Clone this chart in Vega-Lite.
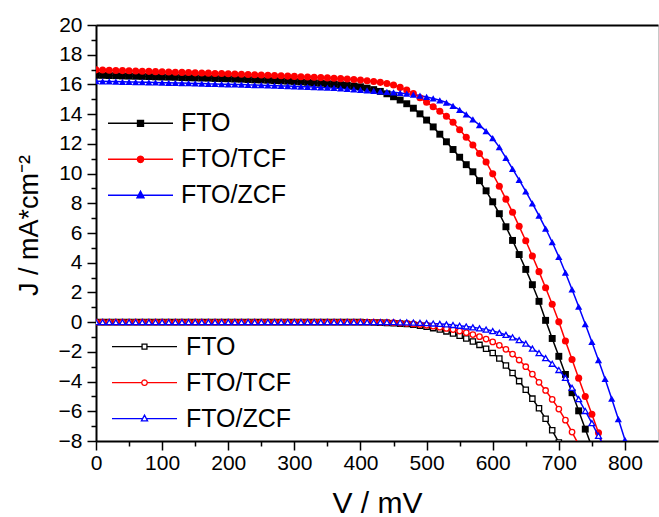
{
"$schema": "https://vega.github.io/schema/vega-lite/v6.json",
"width": 562, "height": 416,
"autosize": {"type": "none"},
"padding": {"left": 96, "top": 25, "right": 1, "bottom": 76},
"config": {
  "font": "Liberation Sans",
  "view": {"stroke": "#c8c8c8", "strokeWidth": 1},
  "axis": {"labelColor": "black", "titleColor": "black", "tickColor": "black", "domainColor": "black", "grid": false, "labelFont": "Liberation Sans", "titleFont": "Liberation Sans", "titleFontWeight": "normal", "labelFlush": false, "labelOverlap": false}
},
"datasets": {
"light": [
{"s":"FTO","v":0,"j":16.62},{"s":"FTO","v":10,"j":16.61},{"s":"FTO","v":20,"j":16.60},{"s":"FTO","v":30,"j":16.59},{"s":"FTO","v":40,"j":16.57},{"s":"FTO","v":50,"j":16.56},{"s":"FTO","v":60,"j":16.55},{"s":"FTO","v":70,"j":16.54},{"s":"FTO","v":80,"j":16.53},{"s":"FTO","v":90,"j":16.51},{"s":"FTO","v":100,"j":16.50},{"s":"FTO","v":110,"j":16.49},{"s":"FTO","v":120,"j":16.48},{"s":"FTO","v":130,"j":16.46},{"s":"FTO","v":140,"j":16.45},{"s":"FTO","v":150,"j":16.44},{"s":"FTO","v":160,"j":16.43},{"s":"FTO","v":170,"j":16.42},{"s":"FTO","v":180,"j":16.40},{"s":"FTO","v":190,"j":16.39},{"s":"FTO","v":200,"j":16.38},{"s":"FTO","v":210,"j":16.36},{"s":"FTO","v":220,"j":16.35},{"s":"FTO","v":230,"j":16.33},{"s":"FTO","v":240,"j":16.31},{"s":"FTO","v":250,"j":16.30},{"s":"FTO","v":260,"j":16.28},{"s":"FTO","v":270,"j":16.26},{"s":"FTO","v":280,"j":16.24},{"s":"FTO","v":290,"j":16.22},{"s":"FTO","v":300,"j":16.20},{"s":"FTO","v":310,"j":16.17},{"s":"FTO","v":320,"j":16.14},{"s":"FTO","v":330,"j":16.11},{"s":"FTO","v":340,"j":16.08},{"s":"FTO","v":350,"j":16.05},{"s":"FTO","v":360,"j":16.02},{"s":"FTO","v":370,"j":15.98},{"s":"FTO","v":380,"j":15.94},{"s":"FTO","v":390,"j":15.89},{"s":"FTO","v":400,"j":15.84},{"s":"FTO","v":410,"j":15.75},{"s":"FTO","v":420,"j":15.65},{"s":"FTO","v":430,"j":15.53},{"s":"FTO","v":440,"j":15.37},{"s":"FTO","v":450,"j":15.17},{"s":"FTO","v":460,"j":14.95},{"s":"FTO","v":470,"j":14.70},{"s":"FTO","v":480,"j":14.40},{"s":"FTO","v":490,"j":14.02},{"s":"FTO","v":500,"j":13.60},{"s":"FTO","v":510,"j":13.14},{"s":"FTO","v":520,"j":12.65},{"s":"FTO","v":530,"j":12.14},{"s":"FTO","v":540,"j":11.62},{"s":"FTO","v":550,"j":11.10},{"s":"FTO","v":560,"j":10.60},{"s":"FTO","v":570,"j":10.12},{"s":"FTO","v":580,"j":9.52},{"s":"FTO","v":590,"j":8.84},{"s":"FTO","v":600,"j":8.10},{"s":"FTO","v":610,"j":7.30},{"s":"FTO","v":620,"j":6.42},{"s":"FTO","v":630,"j":5.50},{"s":"FTO","v":640,"j":4.55},{"s":"FTO","v":650,"j":3.55},{"s":"FTO","v":660,"j":2.52},{"s":"FTO","v":670,"j":1.40},{"s":"FTO","v":680,"j":0.12},{"s":"FTO","v":690,"j":-1.10},{"s":"FTO","v":700,"j":-2.30},{"s":"FTO","v":710,"j":-3.52},{"s":"FTO","v":720,"j":-4.75},{"s":"FTO","v":730,"j":-5.97},{"s":"FTO","v":740,"j":-7.20},{"s":"FTO","v":750,"j":-8.40},
{"s":"FTO/TCF","v":0,"j":16.98},{"s":"FTO/TCF","v":10,"j":16.97},{"s":"FTO/TCF","v":20,"j":16.96},{"s":"FTO/TCF","v":30,"j":16.94},{"s":"FTO/TCF","v":40,"j":16.93},{"s":"FTO/TCF","v":50,"j":16.92},{"s":"FTO/TCF","v":60,"j":16.90},{"s":"FTO/TCF","v":70,"j":16.89},{"s":"FTO/TCF","v":80,"j":16.88},{"s":"FTO/TCF","v":90,"j":16.86},{"s":"FTO/TCF","v":100,"j":16.85},{"s":"FTO/TCF","v":110,"j":16.84},{"s":"FTO/TCF","v":120,"j":16.82},{"s":"FTO/TCF","v":130,"j":16.81},{"s":"FTO/TCF","v":140,"j":16.80},{"s":"FTO/TCF","v":150,"j":16.78},{"s":"FTO/TCF","v":160,"j":16.77},{"s":"FTO/TCF","v":170,"j":16.76},{"s":"FTO/TCF","v":180,"j":16.74},{"s":"FTO/TCF","v":190,"j":16.73},{"s":"FTO/TCF","v":200,"j":16.72},{"s":"FTO/TCF","v":210,"j":16.70},{"s":"FTO/TCF","v":220,"j":16.69},{"s":"FTO/TCF","v":230,"j":16.67},{"s":"FTO/TCF","v":240,"j":16.65},{"s":"FTO/TCF","v":250,"j":16.64},{"s":"FTO/TCF","v":260,"j":16.62},{"s":"FTO/TCF","v":270,"j":16.60},{"s":"FTO/TCF","v":280,"j":16.58},{"s":"FTO/TCF","v":290,"j":16.56},{"s":"FTO/TCF","v":300,"j":16.54},{"s":"FTO/TCF","v":310,"j":16.52},{"s":"FTO/TCF","v":320,"j":16.50},{"s":"FTO/TCF","v":330,"j":16.48},{"s":"FTO/TCF","v":340,"j":16.46},{"s":"FTO/TCF","v":350,"j":16.44},{"s":"FTO/TCF","v":360,"j":16.41},{"s":"FTO/TCF","v":370,"j":16.39},{"s":"FTO/TCF","v":380,"j":16.36},{"s":"FTO/TCF","v":390,"j":16.33},{"s":"FTO/TCF","v":400,"j":16.29},{"s":"FTO/TCF","v":410,"j":16.25},{"s":"FTO/TCF","v":420,"j":16.20},{"s":"FTO/TCF","v":430,"j":16.14},{"s":"FTO/TCF","v":440,"j":16.06},{"s":"FTO/TCF","v":450,"j":15.96},{"s":"FTO/TCF","v":460,"j":15.80},{"s":"FTO/TCF","v":470,"j":15.62},{"s":"FTO/TCF","v":480,"j":15.38},{"s":"FTO/TCF","v":490,"j":15.10},{"s":"FTO/TCF","v":500,"j":14.80},{"s":"FTO/TCF","v":510,"j":14.50},{"s":"FTO/TCF","v":520,"j":14.20},{"s":"FTO/TCF","v":530,"j":13.86},{"s":"FTO/TCF","v":540,"j":13.45},{"s":"FTO/TCF","v":550,"j":12.95},{"s":"FTO/TCF","v":560,"j":12.45},{"s":"FTO/TCF","v":570,"j":11.92},{"s":"FTO/TCF","v":580,"j":11.35},{"s":"FTO/TCF","v":590,"j":10.78},{"s":"FTO/TCF","v":600,"j":9.98},{"s":"FTO/TCF","v":610,"j":9.15},{"s":"FTO/TCF","v":620,"j":8.28},{"s":"FTO/TCF","v":630,"j":7.40},{"s":"FTO/TCF","v":640,"j":6.45},{"s":"FTO/TCF","v":650,"j":5.48},{"s":"FTO/TCF","v":660,"j":4.45},{"s":"FTO/TCF","v":670,"j":3.40},{"s":"FTO/TCF","v":680,"j":2.32},{"s":"FTO/TCF","v":690,"j":1.20},{"s":"FTO/TCF","v":700,"j":0.02},{"s":"FTO/TCF","v":710,"j":-1.27},{"s":"FTO/TCF","v":720,"j":-2.52},{"s":"FTO/TCF","v":730,"j":-3.77},{"s":"FTO/TCF","v":740,"j":-5.00},{"s":"FTO/TCF","v":750,"j":-6.20},{"s":"FTO/TCF","v":760,"j":-7.45},{"s":"FTO/TCF","v":770,"j":-8.70},
{"s":"FTO/ZCF","v":0,"j":16.22},{"s":"FTO/ZCF","v":10,"j":16.21},{"s":"FTO/ZCF","v":20,"j":16.20},{"s":"FTO/ZCF","v":30,"j":16.19},{"s":"FTO/ZCF","v":40,"j":16.18},{"s":"FTO/ZCF","v":50,"j":16.17},{"s":"FTO/ZCF","v":60,"j":16.16},{"s":"FTO/ZCF","v":70,"j":16.15},{"s":"FTO/ZCF","v":80,"j":16.14},{"s":"FTO/ZCF","v":90,"j":16.13},{"s":"FTO/ZCF","v":100,"j":16.12},{"s":"FTO/ZCF","v":110,"j":16.11},{"s":"FTO/ZCF","v":120,"j":16.10},{"s":"FTO/ZCF","v":130,"j":16.09},{"s":"FTO/ZCF","v":140,"j":16.08},{"s":"FTO/ZCF","v":150,"j":16.07},{"s":"FTO/ZCF","v":160,"j":16.06},{"s":"FTO/ZCF","v":170,"j":16.04},{"s":"FTO/ZCF","v":180,"j":16.03},{"s":"FTO/ZCF","v":190,"j":16.02},{"s":"FTO/ZCF","v":200,"j":16.01},{"s":"FTO/ZCF","v":210,"j":16.00},{"s":"FTO/ZCF","v":220,"j":15.99},{"s":"FTO/ZCF","v":230,"j":15.97},{"s":"FTO/ZCF","v":240,"j":15.96},{"s":"FTO/ZCF","v":250,"j":15.95},{"s":"FTO/ZCF","v":260,"j":15.93},{"s":"FTO/ZCF","v":270,"j":15.92},{"s":"FTO/ZCF","v":280,"j":15.90},{"s":"FTO/ZCF","v":290,"j":15.89},{"s":"FTO/ZCF","v":300,"j":15.87},{"s":"FTO/ZCF","v":310,"j":15.85},{"s":"FTO/ZCF","v":320,"j":15.84},{"s":"FTO/ZCF","v":330,"j":15.82},{"s":"FTO/ZCF","v":340,"j":15.80},{"s":"FTO/ZCF","v":350,"j":15.78},{"s":"FTO/ZCF","v":360,"j":15.76},{"s":"FTO/ZCF","v":370,"j":15.73},{"s":"FTO/ZCF","v":380,"j":15.70},{"s":"FTO/ZCF","v":390,"j":15.67},{"s":"FTO/ZCF","v":400,"j":15.63},{"s":"FTO/ZCF","v":410,"j":15.60},{"s":"FTO/ZCF","v":420,"j":15.57},{"s":"FTO/ZCF","v":430,"j":15.53},{"s":"FTO/ZCF","v":440,"j":15.50},{"s":"FTO/ZCF","v":450,"j":15.47},{"s":"FTO/ZCF","v":460,"j":15.43},{"s":"FTO/ZCF","v":470,"j":15.38},{"s":"FTO/ZCF","v":480,"j":15.32},{"s":"FTO/ZCF","v":490,"j":15.25},{"s":"FTO/ZCF","v":500,"j":15.16},{"s":"FTO/ZCF","v":510,"j":15.06},{"s":"FTO/ZCF","v":520,"j":14.93},{"s":"FTO/ZCF","v":530,"j":14.78},{"s":"FTO/ZCF","v":540,"j":14.56},{"s":"FTO/ZCF","v":550,"j":14.28},{"s":"FTO/ZCF","v":560,"j":13.98},{"s":"FTO/ZCF","v":570,"j":13.64},{"s":"FTO/ZCF","v":580,"j":13.26},{"s":"FTO/ZCF","v":590,"j":12.86},{"s":"FTO/ZCF","v":600,"j":12.38},{"s":"FTO/ZCF","v":610,"j":11.78},{"s":"FTO/ZCF","v":620,"j":11.06},{"s":"FTO/ZCF","v":630,"j":10.32},{"s":"FTO/ZCF","v":640,"j":9.58},{"s":"FTO/ZCF","v":650,"j":8.80},{"s":"FTO/ZCF","v":660,"j":8.00},{"s":"FTO/ZCF","v":670,"j":7.17},{"s":"FTO/ZCF","v":680,"j":6.30},{"s":"FTO/ZCF","v":690,"j":5.38},{"s":"FTO/ZCF","v":700,"j":4.40},{"s":"FTO/ZCF","v":710,"j":3.33},{"s":"FTO/ZCF","v":720,"j":2.20},{"s":"FTO/ZCF","v":730,"j":1.05},{"s":"FTO/ZCF","v":740,"j":-0.13},{"s":"FTO/ZCF","v":750,"j":-1.33},{"s":"FTO/ZCF","v":760,"j":-2.56},{"s":"FTO/ZCF","v":770,"j":-3.82},{"s":"FTO/ZCF","v":780,"j":-5.15},{"s":"FTO/ZCF","v":790,"j":-6.52},{"s":"FTO/ZCF","v":800,"j":-7.92},{"s":"FTO/ZCF","v":810,"j":-9.30}
],
"dark": [
{"s":"FTO","v":0,"j":0},{"s":"FTO","v":10,"j":0},{"s":"FTO","v":20,"j":0},{"s":"FTO","v":30,"j":0},{"s":"FTO","v":40,"j":0},{"s":"FTO","v":50,"j":0},{"s":"FTO","v":60,"j":0},{"s":"FTO","v":70,"j":0},{"s":"FTO","v":80,"j":0},{"s":"FTO","v":90,"j":0},{"s":"FTO","v":100,"j":0},{"s":"FTO","v":110,"j":0},{"s":"FTO","v":120,"j":0},{"s":"FTO","v":130,"j":0},{"s":"FTO","v":140,"j":0},{"s":"FTO","v":150,"j":0},{"s":"FTO","v":160,"j":0},{"s":"FTO","v":170,"j":0},{"s":"FTO","v":180,"j":0},{"s":"FTO","v":190,"j":0},{"s":"FTO","v":200,"j":0},{"s":"FTO","v":210,"j":0},{"s":"FTO","v":220,"j":0},{"s":"FTO","v":230,"j":0},{"s":"FTO","v":240,"j":0},{"s":"FTO","v":250,"j":0},{"s":"FTO","v":260,"j":0},{"s":"FTO","v":270,"j":0},{"s":"FTO","v":280,"j":0},{"s":"FTO","v":290,"j":0},{"s":"FTO","v":300,"j":0},{"s":"FTO","v":310,"j":0},{"s":"FTO","v":320,"j":0},{"s":"FTO","v":330,"j":0},{"s":"FTO","v":340,"j":0},{"s":"FTO","v":350,"j":0},{"s":"FTO","v":360,"j":0},{"s":"FTO","v":370,"j":0},{"s":"FTO","v":380,"j":0},{"s":"FTO","v":390,"j":0},{"s":"FTO","v":400,"j":0},{"s":"FTO","v":410,"j":-0.01},{"s":"FTO","v":420,"j":-0.02},{"s":"FTO","v":430,"j":-0.03},{"s":"FTO","v":440,"j":-0.05},{"s":"FTO","v":450,"j":-0.07},{"s":"FTO","v":460,"j":-0.10},{"s":"FTO","v":470,"j":-0.13},{"s":"FTO","v":480,"j":-0.18},{"s":"FTO","v":490,"j":-0.24},{"s":"FTO","v":500,"j":-0.31},{"s":"FTO","v":510,"j":-0.40},{"s":"FTO","v":520,"j":-0.50},{"s":"FTO","v":530,"j":-0.62},{"s":"FTO","v":540,"j":-0.76},{"s":"FTO","v":550,"j":-0.92},{"s":"FTO","v":560,"j":-1.10},{"s":"FTO","v":570,"j":-1.30},{"s":"FTO","v":580,"j":-1.53},{"s":"FTO","v":590,"j":-1.79},{"s":"FTO","v":600,"j":-2.08},{"s":"FTO","v":610,"j":-2.45},{"s":"FTO","v":620,"j":-2.92},{"s":"FTO","v":630,"j":-3.42},{"s":"FTO","v":640,"j":-3.97},{"s":"FTO","v":650,"j":-4.55},{"s":"FTO","v":660,"j":-5.15},{"s":"FTO","v":670,"j":-5.80},{"s":"FTO","v":680,"j":-6.50},{"s":"FTO","v":690,"j":-7.28},{"s":"FTO","v":700,"j":-8.10},
{"s":"FTO/TCF","v":0,"j":0},{"s":"FTO/TCF","v":10,"j":0},{"s":"FTO/TCF","v":20,"j":0},{"s":"FTO/TCF","v":30,"j":0},{"s":"FTO/TCF","v":40,"j":0},{"s":"FTO/TCF","v":50,"j":0},{"s":"FTO/TCF","v":60,"j":0},{"s":"FTO/TCF","v":70,"j":0},{"s":"FTO/TCF","v":80,"j":0},{"s":"FTO/TCF","v":90,"j":0},{"s":"FTO/TCF","v":100,"j":0},{"s":"FTO/TCF","v":110,"j":0},{"s":"FTO/TCF","v":120,"j":0},{"s":"FTO/TCF","v":130,"j":0},{"s":"FTO/TCF","v":140,"j":0},{"s":"FTO/TCF","v":150,"j":0},{"s":"FTO/TCF","v":160,"j":0},{"s":"FTO/TCF","v":170,"j":0},{"s":"FTO/TCF","v":180,"j":0},{"s":"FTO/TCF","v":190,"j":0},{"s":"FTO/TCF","v":200,"j":0},{"s":"FTO/TCF","v":210,"j":0},{"s":"FTO/TCF","v":220,"j":0},{"s":"FTO/TCF","v":230,"j":0},{"s":"FTO/TCF","v":240,"j":0},{"s":"FTO/TCF","v":250,"j":0},{"s":"FTO/TCF","v":260,"j":0},{"s":"FTO/TCF","v":270,"j":0},{"s":"FTO/TCF","v":280,"j":0},{"s":"FTO/TCF","v":290,"j":0},{"s":"FTO/TCF","v":300,"j":0},{"s":"FTO/TCF","v":310,"j":0},{"s":"FTO/TCF","v":320,"j":0},{"s":"FTO/TCF","v":330,"j":0},{"s":"FTO/TCF","v":340,"j":0},{"s":"FTO/TCF","v":350,"j":0},{"s":"FTO/TCF","v":360,"j":0},{"s":"FTO/TCF","v":370,"j":0},{"s":"FTO/TCF","v":380,"j":0},{"s":"FTO/TCF","v":390,"j":0},{"s":"FTO/TCF","v":400,"j":0},{"s":"FTO/TCF","v":410,"j":0},{"s":"FTO/TCF","v":420,"j":0},{"s":"FTO/TCF","v":430,"j":-0.01},{"s":"FTO/TCF","v":440,"j":-0.02},{"s":"FTO/TCF","v":450,"j":-0.04},{"s":"FTO/TCF","v":460,"j":-0.06},{"s":"FTO/TCF","v":470,"j":-0.09},{"s":"FTO/TCF","v":480,"j":-0.12},{"s":"FTO/TCF","v":490,"j":-0.16},{"s":"FTO/TCF","v":500,"j":-0.21},{"s":"FTO/TCF","v":510,"j":-0.27},{"s":"FTO/TCF","v":520,"j":-0.34},{"s":"FTO/TCF","v":530,"j":-0.42},{"s":"FTO/TCF","v":540,"j":-0.50},{"s":"FTO/TCF","v":550,"j":-0.60},{"s":"FTO/TCF","v":560,"j":-0.71},{"s":"FTO/TCF","v":570,"j":-0.84},{"s":"FTO/TCF","v":580,"j":-0.98},{"s":"FTO/TCF","v":590,"j":-1.14},{"s":"FTO/TCF","v":600,"j":-1.33},{"s":"FTO/TCF","v":610,"j":-1.56},{"s":"FTO/TCF","v":620,"j":-1.83},{"s":"FTO/TCF","v":630,"j":-2.15},{"s":"FTO/TCF","v":640,"j":-2.55},{"s":"FTO/TCF","v":650,"j":-3.00},{"s":"FTO/TCF","v":660,"j":-3.50},{"s":"FTO/TCF","v":670,"j":-4.05},{"s":"FTO/TCF","v":680,"j":-4.60},{"s":"FTO/TCF","v":690,"j":-5.20},{"s":"FTO/TCF","v":700,"j":-5.85},{"s":"FTO/TCF","v":710,"j":-6.60},{"s":"FTO/TCF","v":720,"j":-7.40},{"s":"FTO/TCF","v":730,"j":-8.25},
{"s":"FTO/ZCF","v":0,"j":0},{"s":"FTO/ZCF","v":10,"j":0},{"s":"FTO/ZCF","v":20,"j":0},{"s":"FTO/ZCF","v":30,"j":0},{"s":"FTO/ZCF","v":40,"j":0},{"s":"FTO/ZCF","v":50,"j":0},{"s":"FTO/ZCF","v":60,"j":0},{"s":"FTO/ZCF","v":70,"j":0},{"s":"FTO/ZCF","v":80,"j":0},{"s":"FTO/ZCF","v":90,"j":0},{"s":"FTO/ZCF","v":100,"j":0},{"s":"FTO/ZCF","v":110,"j":0},{"s":"FTO/ZCF","v":120,"j":0},{"s":"FTO/ZCF","v":130,"j":0},{"s":"FTO/ZCF","v":140,"j":0},{"s":"FTO/ZCF","v":150,"j":0},{"s":"FTO/ZCF","v":160,"j":0},{"s":"FTO/ZCF","v":170,"j":0},{"s":"FTO/ZCF","v":180,"j":0},{"s":"FTO/ZCF","v":190,"j":0},{"s":"FTO/ZCF","v":200,"j":0},{"s":"FTO/ZCF","v":210,"j":0},{"s":"FTO/ZCF","v":220,"j":0},{"s":"FTO/ZCF","v":230,"j":0},{"s":"FTO/ZCF","v":240,"j":0},{"s":"FTO/ZCF","v":250,"j":0},{"s":"FTO/ZCF","v":260,"j":0},{"s":"FTO/ZCF","v":270,"j":0},{"s":"FTO/ZCF","v":280,"j":0},{"s":"FTO/ZCF","v":290,"j":0},{"s":"FTO/ZCF","v":300,"j":0},{"s":"FTO/ZCF","v":310,"j":0},{"s":"FTO/ZCF","v":320,"j":0},{"s":"FTO/ZCF","v":330,"j":0},{"s":"FTO/ZCF","v":340,"j":0},{"s":"FTO/ZCF","v":350,"j":0},{"s":"FTO/ZCF","v":360,"j":0},{"s":"FTO/ZCF","v":370,"j":0},{"s":"FTO/ZCF","v":380,"j":0},{"s":"FTO/ZCF","v":390,"j":0},{"s":"FTO/ZCF","v":400,"j":0},{"s":"FTO/ZCF","v":410,"j":0},{"s":"FTO/ZCF","v":420,"j":0},{"s":"FTO/ZCF","v":430,"j":0},{"s":"FTO/ZCF","v":440,"j":0},{"s":"FTO/ZCF","v":450,"j":0},{"s":"FTO/ZCF","v":460,"j":-0.01},{"s":"FTO/ZCF","v":470,"j":-0.02},{"s":"FTO/ZCF","v":480,"j":-0.03},{"s":"FTO/ZCF","v":490,"j":-0.05},{"s":"FTO/ZCF","v":500,"j":-0.07},{"s":"FTO/ZCF","v":510,"j":-0.09},{"s":"FTO/ZCF","v":520,"j":-0.12},{"s":"FTO/ZCF","v":530,"j":-0.15},{"s":"FTO/ZCF","v":540,"j":-0.19},{"s":"FTO/ZCF","v":550,"j":-0.24},{"s":"FTO/ZCF","v":560,"j":-0.29},{"s":"FTO/ZCF","v":570,"j":-0.35},{"s":"FTO/ZCF","v":580,"j":-0.42},{"s":"FTO/ZCF","v":590,"j":-0.50},{"s":"FTO/ZCF","v":600,"j":-0.60},{"s":"FTO/ZCF","v":610,"j":-0.72},{"s":"FTO/ZCF","v":620,"j":-0.86},{"s":"FTO/ZCF","v":630,"j":-1.02},{"s":"FTO/ZCF","v":640,"j":-1.21},{"s":"FTO/ZCF","v":650,"j":-1.45},{"s":"FTO/ZCF","v":660,"j":-1.78},{"s":"FTO/ZCF","v":670,"j":-2.08},{"s":"FTO/ZCF","v":680,"j":-2.42},{"s":"FTO/ZCF","v":690,"j":-2.80},{"s":"FTO/ZCF","v":700,"j":-3.22},{"s":"FTO/ZCF","v":710,"j":-3.75},{"s":"FTO/ZCF","v":720,"j":-4.42},{"s":"FTO/ZCF","v":730,"j":-5.18},{"s":"FTO/ZCF","v":740,"j":-5.98},{"s":"FTO/ZCF","v":750,"j":-6.80},{"s":"FTO/ZCF","v":760,"j":-7.65},{"s":"FTO/ZCF","v":770,"j":-8.50}
]
},
"layer": [
{
  "data": {"name": "light"},
  "encoding": {
    "x": {"field": "v", "type": "quantitative", "scale": {"domain": [0, 850], "nice": false, "zero": false},
      "axis": {"orient": "bottom", "values": [0,100,200,300,400,500,600,700,800], "tickSize": 9, "tickWidth": 1.5, "domainWidth": 2, "labelFontSize": 21, "labelPadding": 2, "title": "V / mV", "titleFontSize": 30, "titleBaseline": "alphabetic", "titleY": 71}},
    "y": {"field": "j", "type": "quantitative", "scale": {"domain": [-8, 20], "nice": false, "zero": false},
      "axis": {"orient": "left", "values": [-8,-6,-4,-2,0,2,4,6,8,10,12,14,16,18,20], "tickSize": 9, "tickWidth": 1.5, "domainWidth": 2, "labelFontSize": 21, "labelPadding": 5, "title": "J / mA*cm⁻²", "titleFontSize": 27, "titleBaseline": "alphabetic", "titleX": -59, "titleY": 200}},
    "color": {"field": "s", "type": "nominal", "scale": {"domain": ["FTO","FTO/TCF","FTO/ZCF"], "range": ["#000000","#ff0000","#0000ff"]},
      "legend": {"title": null, "orient": "none", "legendX": 11, "legendY": 80.3, "padding": 0, "symbolSize": 4225, "symbolStrokeWidth": 1.5, "symbolOffset": 0, "labelOffset": 7, "labelFontSize": 25, "labelFont": "Liberation Sans", "labelColor": "black", "clipHeight": 36, "rowPadding": 0,
        "encode": {"symbols": {"update": {
          "fill": {"signal": "datum.value==='FTO' ? '#000000' : datum.value==='FTO/TCF' ? '#ff0000' : '#0000ff'"},
          "stroke": {"signal": "datum.value==='FTO' ? '#000000' : datum.value==='FTO/TCF' ? '#ff0000' : '#0000ff'"},
          "strokeWidth": {"value": 1.5}, "opacity": {"value": 1}}}}}}
  },
  "layer": [
    {"mark": {"type": "line", "strokeWidth": 1.5, "clip": true}},
    {"transform": [{"filter": "datum.s === 'FTO'"}], "mark": {"type": "point", "shape": "square", "filled": true, "opacity": 1, "size": 48, "clip": true}},
    {"transform": [{"filter": "datum.s === 'FTO/TCF'"}], "mark": {"type": "point", "shape": "circle", "filled": true, "opacity": 1, "size": 50, "clip": true}},
    {"transform": [{"filter": "datum.s === 'FTO/ZCF'"}], "mark": {"type": "point", "shape": "triangle-up", "filled": true, "opacity": 1, "size": 52, "clip": true}},
    {"transform": [{"filter": "datum.v < 0"}],
     "mark": {"type": "point", "filled": true, "opacity": 1},
     "encoding": {"shape": {"field": "s", "type": "nominal",
       "scale": {"domain": ["FTO","FTO/TCF","FTO/ZCF"], "range": [
         "M-1,0L-0.09,0M0.09,0L1,0M-0.09,-0.09L0.09,-0.09L0.09,0.09L-0.09,0.09Z",
         "M-1,0L-0.095,0M0.095,0L1,0M0.095,0L0.082,0.048L0.048,0.082L0,0.095L-0.048,0.082L-0.082,0.048L-0.095,0L-0.082,-0.048L-0.048,-0.082L0,-0.095L0.048,-0.082L0.082,-0.048Z",
         "M-1,0L-0.06,0M0.06,0L1,0M0,-0.12L0.105,0.075L-0.105,0.075Z"]},
       "legend": null}}}
  ]
},
{
  "data": {"name": "dark"},
  "encoding": {
    "x": {"field": "v", "type": "quantitative", "scale": {"domain": [0, 850], "nice": false, "zero": false},
      "axis": {"orient": "bottom", "values": [50,150,250,350,450,550,650,750], "tickSize": 5, "tickWidth": 1.5, "domain": false, "labels": false, "title": null}},
    "y": {"field": "j", "type": "quantitative", "scale": {"domain": [-8, 20], "nice": false, "zero": false},
      "axis": {"orient": "left", "values": [-7,-5,-3,-1,1,3,5,7,9,11,13,15,17,19], "tickSize": 5, "tickWidth": 1.5, "domain": false, "labels": false, "title": null}},
    "color": {"field": "s", "type": "nominal", "scale": {"domain": ["FTO","FTO/TCF","FTO/ZCF"], "range": ["#000000","#ff0000","#0000ff"]},
      "legend": {"title": null, "orient": "none", "legendX": 15, "legendY": 304, "padding": 0, "symbolSize": 4225, "symbolStrokeWidth": 1.3, "symbolOffset": 0, "labelOffset": 8, "labelFontSize": 25, "labelFont": "Liberation Sans", "labelColor": "black", "clipHeight": 35.3, "rowPadding": 0,
        "encode": {"symbols": {"update": {
          "fill": {"value": "#ffffff"},
          "stroke": {"signal": "datum.value==='FTO' ? '#000000' : datum.value==='FTO/TCF' ? '#ff0000' : '#0000ff'"},
          "strokeWidth": {"value": 1.3}, "opacity": {"value": 1}}}}}}
  },
  "layer": [
    {"mark": {"type": "line", "strokeWidth": 1.5, "clip": true}},
    {"transform": [{"filter": "datum.s === 'FTO'"}], "mark": {"type": "point", "shape": "square", "filled": false, "fill": "#ffffff", "opacity": 1, "size": 28, "strokeWidth": 1.3, "clip": true}},
    {"transform": [{"filter": "datum.s === 'FTO/TCF'"}], "mark": {"type": "point", "shape": "circle", "filled": false, "fill": "#ffffff", "opacity": 1, "size": 30, "strokeWidth": 1.3, "clip": true}},
    {"transform": [{"filter": "datum.s === 'FTO/ZCF'"}], "mark": {"type": "point", "shape": "triangle-up", "filled": false, "fill": "#ffffff", "opacity": 1, "size": 34, "strokeWidth": 1.3, "clip": true}},
    {"transform": [{"filter": "datum.v < 0"}],
     "mark": {"type": "point", "filled": false, "fill": "#ffffff", "opacity": 1},
     "encoding": {"shape": {"field": "s", "type": "nominal",
       "scale": {"domain": ["FTO","FTO/TCF","FTO/ZCF"], "range": [
         "M-1,0L-0.075,0M0.075,0L1,0M-0.075,-0.075L0.075,-0.075L0.075,0.075L-0.075,0.075Z",
         "M-1,0L-0.085,0M0.085,0L1,0M0.085,0L0.074,0.043L0.043,0.074L0,0.085L-0.043,0.074L-0.074,0.043L-0.085,0L-0.074,-0.043L-0.043,-0.074L0,-0.085L0.043,-0.074L0.074,-0.043Z",
         "M-1,0L-0.055,0M0.055,0L1,0M0,-0.11L0.095,0.07L-0.095,0.07Z"]},
       "legend": null}}}
  ]
},
{
  "data": {"name": "dark"},
  "mark": {"type": "point", "opacity": 0},
  "encoding": {
    "x": {"field": "v", "type": "quantitative", "scale": {"domain": [0, 850], "nice": false, "zero": false},
      "axis": {"orient": "top", "ticks": false, "labels": false, "domainWidth": 2, "title": null}},
    "y": {"field": "j", "type": "quantitative", "scale": {"domain": [-8, 20], "nice": false, "zero": false}, "axis": null}
  }
}
],
"resolve": {
  "scale": {"color": "independent", "shape": "independent"},
  "legend": {"color": "independent", "shape": "independent"},
  "axis": {"x": "independent", "y": "independent"}
}
}
